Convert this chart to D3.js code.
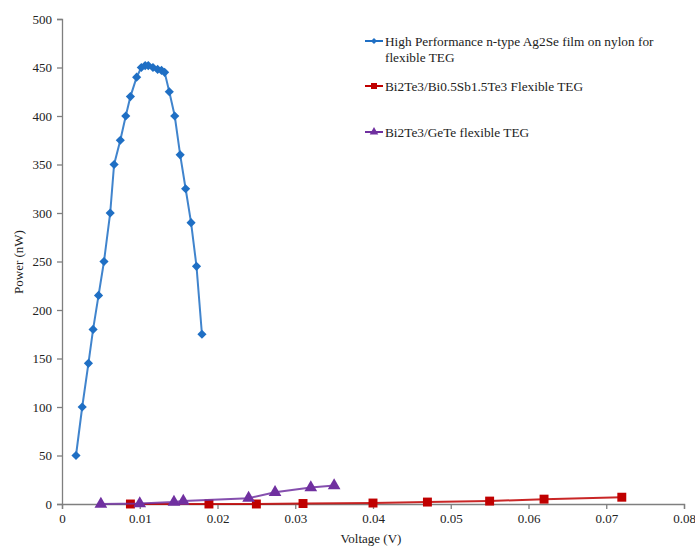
<!DOCTYPE html>
<html><head><meta charset="utf-8">
<script src="https://cdn.jsdelivr.net/npm/d3@7"></script>
<style>body{margin:0;background:#fff}svg{display:block}</style>
</head><body><svg id="c" width="695" height="547"></svg>
<script>
const agX = [0.0018,0.0026,0.0034,0.0040,0.0047,0.0054,0.0062,0.0067,0.0075,0.0082,0.0088,0.0096,0.0102,0.0107,0.0111,0.0117,0.0123,0.0128,0.0132,0.0138,0.0145,0.0152,0.0159,0.0166,0.0173,0.0180];
const agY = [50,100,145,180,215,250,300,350,375,400,420,440,450,452,452,450,448,447,445,425,400,360,325,290,245,175];
const bstX = [0.0088,0.0189,0.025,0.031,0.040,0.047,0.055,0.062,0.072];
const bstY = [0,0,0,0.5,1,2,3,5,7];
const gtX = [0.005,0.010,0.0144,0.0156,0.024,0.0274,0.032,0.035];
const gtY = [0,0.5,2,3,6,12,17,19];
const seriesNames = ["High Performance n-type Ag2Se film on nylon for|flexible TEG","Bi2Te3/Bi0.5Sb1.5Te3 Flexible TEG","Bi2Te3/GeTe flexible TEG"];
const xTicks = [0,0.01,0.02,0.03,0.04,0.05,0.06,0.07,0.08];
const yTicks = [0,50,100,150,200,250,300,350,400,450,500];

const FONT = "'Liberation Serif','Times New Roman',Times,serif";
const svg = d3.select("#c");
const x = d3.scaleLinear().domain([0,0.08]).range([62,684]);
const y = d3.scaleLinear().domain([0,500]).range([504,19]);

const xAxis = svg.append("g").attr("transform","translate(0,504)")
  .call(d3.axisBottom(x).tickValues(xTicks).tickFormat(d=>d===0?"0":d3.format(".2f")(d)).tickSizeOuter(0).tickSize(5).tickPadding(5));
const yAxis = svg.append("g").attr("transform","translate(62,0)")
  .call(d3.axisLeft(y).tickValues(yTicks).tickSizeOuter(0).tickSize(5).tickPadding(5));
[xAxis,yAxis].forEach(a=>{a.attr("font-family",null);
  a.selectAll("path,line").attr("stroke","#7f7f7f").attr("stroke-width",1.3);
  a.selectAll("text").style("font-family",FONT).style("font-size","13px").attr("fill","#222");});

svg.append("text").attr("x",371).attr("y",543).attr("text-anchor","middle").style("font-family",FONT).style("font-size","13px").attr("fill","#222").text("Voltage (V)");
svg.append("text").attr("transform","translate(23,262) rotate(-90)").attr("text-anchor","middle").style("font-family",FONT).style("font-size","13px").attr("fill","#222").text("Power (nW)");

const colors = ["#1f6fc4","#c00000","#7030a0"];
const data = [agX.map((v,i)=>[v,agY[i]]), bstX.map((v,i)=>[v,bstY[i]]), gtX.map((v,i)=>[v,gtY[i]])];
const line = d3.line().x(d=>x(d[0])).y(d=>y(d[1]));
const sym = [d3.symbolSquare, d3.symbolSquare, d3.symbolTriangle];
const rot = [45, 0, 0];
const sizes = [42, 80, 70];
data.forEach((s,i)=>{
  svg.append("path").datum(s).attr("d",line).attr("fill","none").attr("stroke",colors[i]).attr("stroke-width",2).attr("stroke-opacity",0.85);
  svg.append("g").selectAll("path").data(s).join("path")
    .attr("transform",d=>`translate(${x(d[0])},${y(d[1])}) rotate(${rot[i]})`)
    .attr("d",d3.symbol().type(sym[i]).size(sizes[i])).attr("fill",colors[i]);
});

const legY = [41,86,132];
seriesNames.forEach((n,i)=>{
  const g = svg.append("g");
  g.append("line").attr("x1",365).attr("x2",383).attr("y1",legY[i]).attr("y2",legY[i]).attr("stroke",colors[i]).attr("stroke-width",2);
  g.append("path").attr("transform",`translate(374,${legY[i]}) rotate(${rot[i]})`).attr("d",d3.symbol().type(sym[i]).size(sizes[i]*0.45)).attr("fill",colors[i]);
  n.split("|").forEach((t,j)=>{
    g.append("text").attr("x",385).attr("y",legY[i]+5+j*16).style("font-family",FONT).style("font-size","13.3px").attr("fill","#222").text(t);
  });
});
</script></body></html>
